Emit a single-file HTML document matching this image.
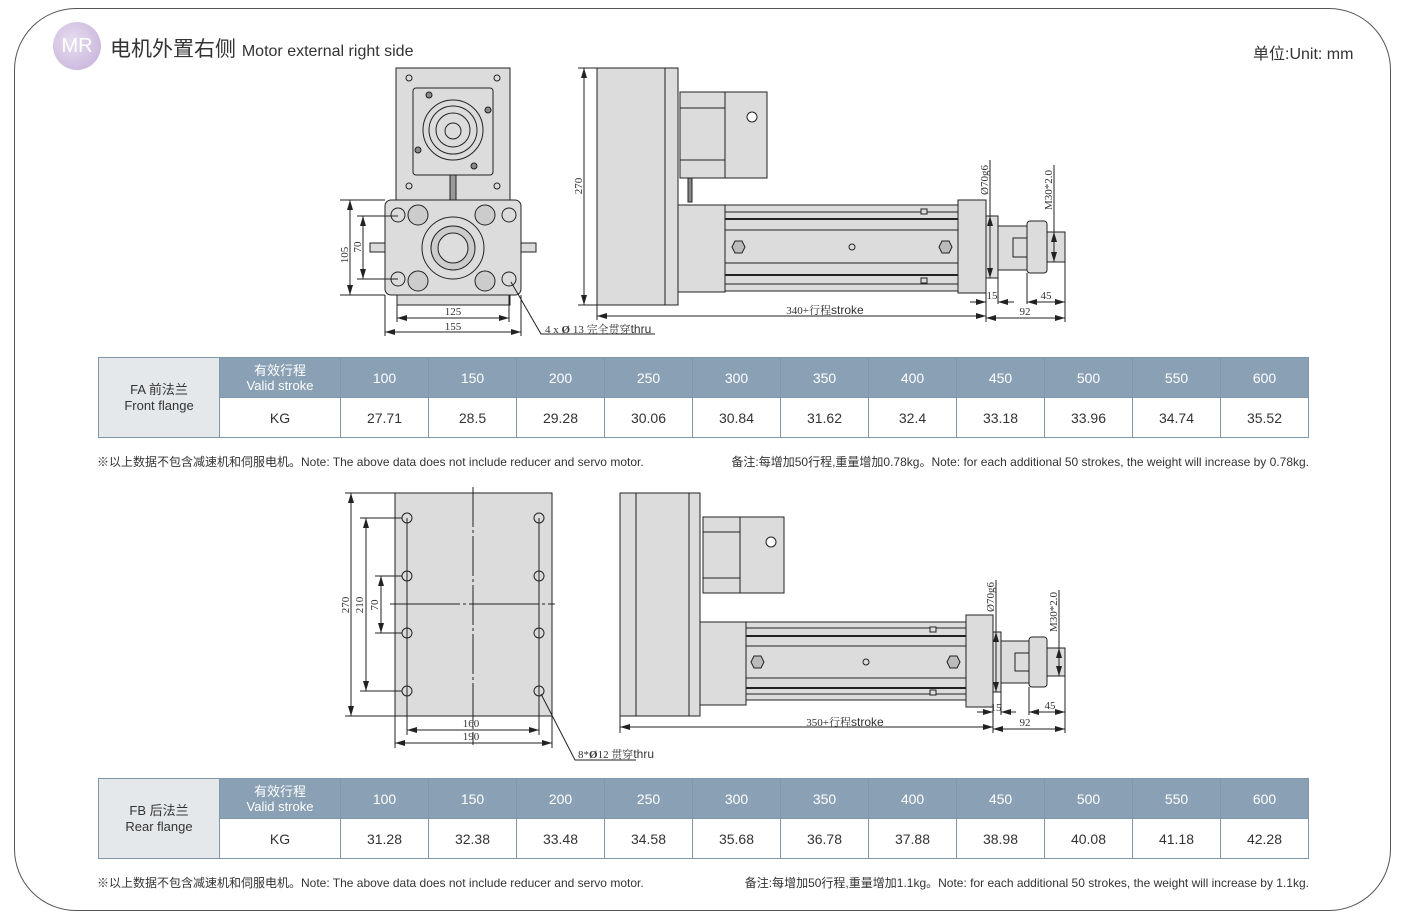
<!DOCTYPE html>
<html><head><meta charset="utf-8"><style>
html,body{margin:0;padding:0;background:#fff;}
body{width:1408px;height:924px;position:relative;overflow:hidden;font-family:"Liberation Sans","Noto Sans CJK SC",sans-serif;}
.frame{position:absolute;left:14px;top:8px;width:1377px;height:903px;border:1.5px solid #555;border-radius:62px;box-sizing:border-box;}
.abs{position:absolute;white-space:nowrap;}
table{position:absolute;left:98px;border-collapse:collapse;font-family:"Liberation Sans","Noto Sans CJK SC",sans-serif;}
td{border:1.5px solid #7f97ab;text-align:center;font-size:14px;color:#333;padding:0;}
tr.h td{background:#8aa0b4;color:#fff;height:39px;}
tr.d td{background:#fff;height:39px;}
td.l{background:#e5e8eb !important;color:#333 !important;width:120px;font-size:13px;line-height:16px;}
td.v{width:120px;font-size:13px;line-height:15px;}
td.n{width:87px;}
.note{font-size:12px;color:#333;}
</style></head><body>
<div class="frame"></div>
<div class="abs" style="left:53px;top:22px;width:48px;height:48px;border-radius:50%;background:radial-gradient(circle at 40% 40%,#e6dcef,#c4aed8);color:#fff;font-size:20px;line-height:48px;text-align:center;">MR</div>
<div class="abs" style="left:110px;top:33px;font-size:21px;color:#333;">电机外置右侧 <span style="font-size:16px;">Motor external right side</span></div>
<div class="abs" style="left:1253px;top:40px;font-size:16px;color:#333;">单位:Unit: mm</div>

<svg width="1408" height="924" style="position:absolute;left:0;top:0" font-family="Liberation Serif, Noto Serif CJK SC, serif" font-size="11" fill="none" stroke="#222" stroke-width="1">
<defs><marker id="a" viewBox="0 0 10 6" refX="10" refY="3" markerWidth="10" markerHeight="6" orient="auto-start-reverse"><path d="M0,0L10,3L0,6z" fill="#222" stroke="none"/></marker></defs>
<g fill="#dcdcdc">
<rect x="396" y="68" width="114" height="132"/>
<rect x="413" y="88" width="80" height="87" rx="3"/>
<circle cx="453" cy="130" r="30" fill="none"/><circle cx="453" cy="130" r="24" fill="none"/><circle cx="453" cy="130" r="17" fill="none"/><circle cx="453" cy="131" r="8" fill="none"/>
<circle cx="409" cy="78" r="3" fill="none"/><circle cx="497" cy="78" r="3" fill="none"/><circle cx="409" cy="186" r="3" fill="none"/><circle cx="497" cy="186" r="3" fill="none"/>
<circle cx="429" cy="95" r="3" fill="#888"/><circle cx="488" cy="110" r="3" fill="#888"/><circle cx="418" cy="150" r="3" fill="#888"/><circle cx="474" cy="166" r="3" fill="#888"/>
<rect x="450" y="175" width="6" height="25" fill="#999"/>
<rect x="370" y="243" width="16" height="9"/><rect x="520" y="243" width="16" height="9"/>
<rect x="397" y="290" width="113" height="15"/>
<rect x="385" y="200" width="136" height="95" rx="6"/>
<circle cx="453" cy="248" r="31" fill="none"/><circle cx="453" cy="248" r="22" fill="#ccc"/><circle cx="453" cy="248" r="15" fill="#ddd"/>
<g fill="#ccc"><circle cx="418" cy="215" r="10"/><circle cx="485" cy="215" r="10"/><circle cx="418" cy="281" r="10"/><circle cx="485" cy="281" r="10"/></g>
<g fill="none"><circle cx="398" cy="215" r="7"/><circle cx="509" cy="215" r="7"/><circle cx="398" cy="279" r="7"/><circle cx="509" cy="279" r="7"/></g>
<rect x="597" y="68" width="68" height="237"/><rect x="665" y="68" width="13" height="237"/>
<rect x="680" y="92" width="45" height="86"/><rect x="725" y="92" width="42" height="86"/>
<line x1="680" y1="108" x2="725" y2="108"/><line x1="680" y1="160" x2="725" y2="160"/><circle cx="752" cy="117" r="5" fill="#fff"/>
<rect x="688" y="178" width="4" height="24" fill="#888"/>
<rect x="678" y="205" width="47" height="87"/>
<rect x="725" y="205" width="233" height="86"/>
<g fill="none"><line x1="725" y1="212" x2="958" y2="212"/><line x1="725" y1="219" x2="958" y2="219" stroke-width="2"/><line x1="725" y1="230" x2="958" y2="230"/><line x1="725" y1="263" x2="958" y2="263"/><line x1="725" y1="275" x2="958" y2="275" stroke-width="2"/><line x1="725" y1="284" x2="958" y2="284"/></g>
<polygon points="732,247 735,241 742,241 745,247 742,253 735,253" fill="#bbb"/>
<polygon points="939,247 942,241 949,241 952,247 949,253 942,253" fill="#bbb"/>
<circle cx="852" cy="247" r="3" fill="none"/><rect x="921" y="209" width="6" height="5"/><rect x="921" y="278" width="6" height="5"/>
<rect x="958" y="200" width="28" height="93"/>
<rect x="986" y="216" width="12" height="62"/><rect x="998" y="226" width="29" height="44"/><rect x="1013" y="238" width="14" height="19"/>
<rect x="1027" y="221" width="20" height="52" rx="3"/><rect x="1047" y="232" width="18" height="30"/>
<rect x="395" y="493" width="157" height="223"/>
<rect x="620" y="493" width="80" height="223"/><line x1="636" y1="493" x2="636" y2="716"/><line x1="689" y1="493" x2="689" y2="716"/>
<rect x="703" y="517" width="37" height="76"/><rect x="740" y="517" width="44" height="76"/>
<line x1="703" y1="532" x2="740" y2="532"/><line x1="703" y1="578" x2="740" y2="578"/><circle cx="771" cy="542" r="5" fill="#fff"/>
<rect x="700" y="622" width="46" height="83"/>
<rect x="746" y="622" width="220" height="78"/>
<g fill="none"><line x1="746" y1="628" x2="966" y2="628"/><line x1="746" y1="636" x2="966" y2="636" stroke-width="2"/><line x1="746" y1="646" x2="966" y2="646"/><line x1="746" y1="678" x2="966" y2="678"/><line x1="746" y1="688" x2="966" y2="688" stroke-width="2"/><line x1="746" y1="694" x2="966" y2="694"/></g>
<polygon points="751,662 754,656 761,656 764,662 761,668 754,668" fill="#bbb"/>
<polygon points="947,662 950,656 957,656 960,662 957,668 950,668" fill="#bbb"/>
<circle cx="866" cy="662" r="3" fill="none"/><rect x="930" y="627" width="6" height="5"/><rect x="930" y="690" width="6" height="5"/>
<rect x="966" y="615" width="27" height="92"/>
<rect x="993" y="632" width="8" height="60"/><rect x="1001" y="641" width="28" height="42"/><rect x="1015" y="653" width="14" height="18"/>
<rect x="1029" y="637" width="18" height="50" rx="3"/><rect x="1047" y="648" width="18" height="28"/>
</g>
<g fill="none">
<line x1="473" y1="487" x2="473" y2="745" stroke-dasharray="40,3,3,3"/><line x1="390" y1="604" x2="555" y2="604" stroke-dasharray="70,3,3,3"/>
<circle cx="407" cy="518" r="5"/><circle cx="407" cy="576" r="5"/><circle cx="407" cy="633" r="5"/><circle cx="407" cy="691" r="5"/>
<circle cx="539" cy="518" r="5"/><circle cx="539" cy="576" r="5"/><circle cx="539" cy="633" r="5"/><circle cx="539" cy="691" r="5"/>
<line x1="407" y1="518" x2="407" y2="735"/><line x1="539" y1="518" x2="539" y2="735"/>
<line x1="345" y1="493" x2="395" y2="493"/><line x1="345" y1="716" x2="395" y2="716"/>
<line x1="351" y1="493" x2="351" y2="716" marker-start="url(#a)" marker-end="url(#a)"/>
<line x1="360" y1="518" x2="402" y2="518"/><line x1="360" y1="691" x2="402" y2="691"/>
<line x1="366" y1="518" x2="366" y2="691" marker-start="url(#a)" marker-end="url(#a)"/>
<line x1="375" y1="576" x2="402" y2="576"/><line x1="375" y1="633" x2="402" y2="633"/>
<line x1="381" y1="576" x2="381" y2="633" marker-start="url(#a)" marker-end="url(#a)"/>
<line x1="395" y1="716" x2="395" y2="748"/><line x1="552" y1="716" x2="552" y2="748"/>
<line x1="407" y1="730" x2="539" y2="730" marker-start="url(#a)" marker-end="url(#a)"/>
<line x1="395" y1="743" x2="552" y2="743" marker-start="url(#a)" marker-end="url(#a)"/>
<polyline points="541,694 575,760 636,760" /><line x1="620" y1="716" x2="620" y2="733"/>
<line x1="340" y1="200" x2="385" y2="200"/><line x1="340" y1="295" x2="385" y2="295"/>
<line x1="350" y1="200" x2="350" y2="295" marker-start="url(#a)" marker-end="url(#a)"/>
<line x1="357" y1="216" x2="398" y2="216"/><line x1="357" y1="279" x2="398" y2="279"/>
<line x1="363" y1="216" x2="363" y2="279" marker-start="url(#a)" marker-end="url(#a)"/>
<line x1="397" y1="295" x2="397" y2="322"/><line x1="509" y1="295" x2="509" y2="322"/><line x1="385" y1="295" x2="385" y2="336"/><line x1="521" y1="295" x2="521" y2="336"/>
<line x1="397" y1="318" x2="509" y2="318" marker-start="url(#a)" marker-end="url(#a)"/>
<line x1="385" y1="332" x2="521" y2="332" marker-start="url(#a)" marker-end="url(#a)"/>
<polyline points="511,282 541,334 655,334"/>
<line x1="578" y1="68" x2="597" y2="68"/><line x1="578" y1="305" x2="597" y2="305"/>
<line x1="584" y1="68" x2="584" y2="305" marker-start="url(#a)" marker-end="url(#a)"/>
<line x1="597" y1="305" x2="597" y2="320"/><line x1="986" y1="200" x2="986" y2="322"/><line x1="1065" y1="262" x2="1065" y2="322"/><line x1="998" y1="278" x2="998" y2="304"/><line x1="1027" y1="273" x2="1027" y2="304"/>
<line x1="597" y1="316" x2="986" y2="316" marker-start="url(#a)" marker-end="url(#a)"/>
<line x1="986" y1="318" x2="1065" y2="318" marker-start="url(#a)" marker-end="url(#a)"/>
<line x1="970" y1="302" x2="986" y2="302" marker-end="url(#a)"/><line x1="1014" y1="302" x2="998" y2="302" marker-end="url(#a)"/>
<line x1="1027" y1="302" x2="1065" y2="302" marker-start="url(#a)" marker-end="url(#a)"/>
<line x1="990" y1="160" x2="990" y2="278"/><line x1="990" y1="216" x2="990" y2="278" marker-start="url(#a)" marker-end="url(#a)"/>
<line x1="1054" y1="165" x2="1054" y2="262"/><line x1="1054" y1="232" x2="1054" y2="262" marker-start="url(#a)" marker-end="url(#a)"/>
<line x1="620" y1="727" x2="993" y2="727" marker-start="url(#a)" marker-end="url(#a)"/>
<line x1="993" y1="707" x2="993" y2="733"/><line x1="1065" y1="676" x2="1065" y2="733"/><line x1="1001" y1="692" x2="1001" y2="715"/><line x1="1029" y1="687" x2="1029" y2="715"/>
<line x1="993" y1="729" x2="1065" y2="729" marker-start="url(#a)" marker-end="url(#a)"/>
<line x1="977" y1="712" x2="993" y2="712" marker-end="url(#a)"/><line x1="1016" y1="712" x2="1001" y2="712" marker-end="url(#a)"/>
<line x1="1029" y1="712" x2="1065" y2="712" marker-start="url(#a)" marker-end="url(#a)"/>
<line x1="996" y1="580" x2="996" y2="692"/><line x1="996" y1="632" x2="996" y2="692" marker-start="url(#a)" marker-end="url(#a)"/>
<line x1="1059" y1="590" x2="1059" y2="676"/><line x1="1059" y1="648" x2="1059" y2="676" marker-start="url(#a)" marker-end="url(#a)"/>
</g>
<g fill="#333" stroke="none">
<text x="348" y="255" transform="rotate(-90 348 255)" text-anchor="middle">105</text>
<text x="361" y="247" transform="rotate(-90 361 247)" text-anchor="middle">70</text>
<text x="453" y="315" text-anchor="middle">125</text><text x="453" y="330" text-anchor="middle">155</text>
<text x="545" y="333">4  x  <tspan font-weight="bold">Ø</tspan>  13  完全贯穿<tspan font-family="Liberation Sans" font-size="12">thru</tspan></text>
<text x="582" y="186" transform="rotate(-90 582 186)" text-anchor="middle">270</text>
<text x="825" y="314" text-anchor="middle">340+行程<tspan font-family="Liberation Sans" font-size="12">stroke</tspan></text>
<text x="992" y="299" text-anchor="middle">15</text><text x="1025" y="315" text-anchor="middle">92</text><text x="1046" y="299" text-anchor="middle">45</text>
<text x="988" y="195" transform="rotate(-90 988 195)">Ø70g6</text>
<text x="1052" y="210" transform="rotate(-90 1052 210)">M30*2.0</text>
<text x="349" y="605" transform="rotate(-90 349 605)" text-anchor="middle">270</text>
<text x="363" y="605" transform="rotate(-90 363 605)" text-anchor="middle">210</text>
<text x="378" y="605" transform="rotate(-90 378 605)" text-anchor="middle">70</text>
<text x="471" y="727" text-anchor="middle">160</text><text x="471" y="740" text-anchor="middle">190</text>
<text x="578" y="758">8*<tspan font-weight="bold">Ø</tspan>12  贯穿<tspan font-family="Liberation Sans" font-size="12">thru</tspan></text>
<text x="845" y="726" text-anchor="middle">350+行程<tspan font-family="Liberation Sans" font-size="12">stroke</tspan></text>
<text x="996" y="711" text-anchor="middle">15</text><text x="1025" y="726" text-anchor="middle">92</text><text x="1050" y="709" text-anchor="middle">45</text>
<text x="994" y="612" transform="rotate(-90 994 612)">Ø70g6</text>
<text x="1057" y="632" transform="rotate(-90 1057 632)">M30*2.0</text>
</g>
</svg>

<table style="top:357px;">
<tr class="h"><td class="l" rowspan="2">FA 前法兰<br>Front flange</td><td class="v">有效行程<br>Valid stroke</td><td class="n">100</td><td class="n">150</td><td class="n">200</td><td class="n">250</td><td class="n">300</td><td class="n">350</td><td class="n">400</td><td class="n">450</td><td class="n">500</td><td class="n">550</td><td class="n">600</td></tr>
<tr class="d"><td>KG</td><td>27.71</td><td>28.5</td><td>29.28</td><td>30.06</td><td>30.84</td><td>31.62</td><td>32.4</td><td>33.18</td><td>33.96</td><td>34.74</td><td>35.52</td></tr>
</table>
<div class="abs note" style="left:97px;top:453px;">※以上数据不包含减速机和伺服电机。Note: The above data does not include reducer and servo motor.</div>
<div class="abs note" style="right:99px;top:453px;">备注:每增加50行程,重量增加0.78kg。Note: for each additional 50 strokes, the weight will increase by 0.78kg.</div>

<table style="top:778px;">
<tr class="h"><td class="l" rowspan="2">FB 后法兰<br>Rear flange</td><td class="v">有效行程<br>Valid stroke</td><td class="n">100</td><td class="n">150</td><td class="n">200</td><td class="n">250</td><td class="n">300</td><td class="n">350</td><td class="n">400</td><td class="n">450</td><td class="n">500</td><td class="n">550</td><td class="n">600</td></tr>
<tr class="d"><td>KG</td><td>31.28</td><td>32.38</td><td>33.48</td><td>34.58</td><td>35.68</td><td>36.78</td><td>37.88</td><td>38.98</td><td>40.08</td><td>41.18</td><td>42.28</td></tr>
</table>
<div class="abs note" style="left:97px;top:874px;">※以上数据不包含减速机和伺服电机。Note: The above data does not include reducer and servo motor.</div>
<div class="abs note" style="right:99px;top:874px;">备注:每增加50行程,重量增加1.1kg。Note: for each additional 50 strokes, the weight will increase by 1.1kg.</div>
</body></html>
